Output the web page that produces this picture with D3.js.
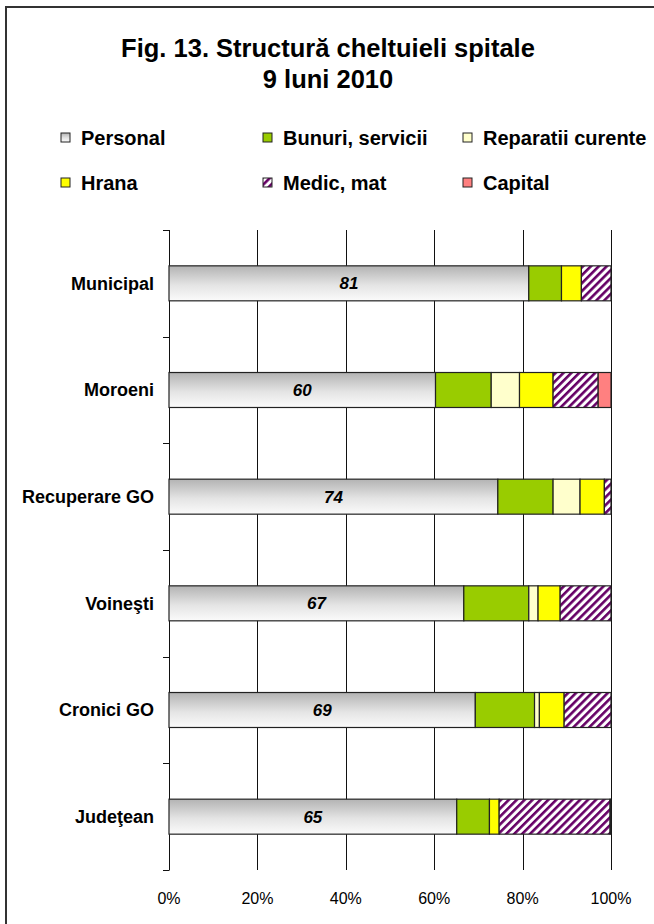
<!DOCTYPE html>
<html>
<head>
<meta charset="utf-8">
<script src="https://cdn.jsdelivr.net/npm/d3@7"></script>
<style>
  html, body { margin: 0; padding: 0; background: #fff; }
  svg { display: block; font-family: "Liberation Sans", Arial, sans-serif; }
</style>
</head>
<body>
<svg id="chart" width="654" height="924"></svg>
<script>
// Hospitals (top to bottom)
const hospitals = ["Municipal", "Moroeni", "Recuperare GO", "Voineşti", "Cronici GO", "Judeţean"];

// Expense categories, in stacking order
const categories = ["Personal", "Bunuri, servicii", "Reparatii curente", "Hrana", "Medic, mat", "Capital"];

// Share of each expense category per hospital (%)
const personal   = [81.4, 60.3, 74.4, 66.7, 69.3, 65.1];
const bunuri     = [ 7.4, 12.6, 12.5, 14.7, 13.4,  7.4];
const reparatii  = [ 0.0,  6.4,  6.1,  2.1,  1.1,  0.0];
const hrana      = [ 4.5,  7.6,  5.5,  5.0,  5.6,  2.2];
const medic      = [ 6.7, 10.2,  1.5, 11.5, 10.6, 25.1];
const capital    = [ 0.0,  2.9,  0.0,  0.0,  0.0,  0.2];

// Axis tick values (%)
const xTicks = [0, 20, 40, 60, 80, 100];

const title1 = "Fig. 13. Structură cheltuieli spitale";
const title2 = "9 luni 2010";

const seriesArrays = [personal, bunuri, reparatii, hrana, medic, capital];
const rows = hospitals.map((h, i) => {
  const r = { hospital: h };
  categories.forEach((c, k) => { r[c] = seriesArrays[k][i]; });
  return r;
});

const svg = d3.select("#chart");
const defs = svg.append("defs");

// Grey shading for the personnel segment
const grad = defs.append("linearGradient")
  .attr("id", "greyShade").attr("x1", 0).attr("y1", 0).attr("x2", 0).attr("y2", 1);
grad.append("stop").attr("offset", "0%").attr("stop-color", "#b3b3b3");
grad.append("stop").attr("offset", "55%").attr("stop-color", "#e4e4e4");
grad.append("stop").attr("offset", "100%").attr("stop-color", "#fbfbfb");

// Purple diagonal hatching for medical materials
const hatch = defs.append("pattern")
  .attr("id", "hatch").attr("patternUnits", "userSpaceOnUse")
  .attr("width", 5.6).attr("height", 5.6)
  .attr("patternTransform", "rotate(45)");
hatch.append("rect").attr("width", 5.6).attr("height", 5.6).attr("fill", "#fff");
hatch.append("rect").attr("width", 2.6).attr("height", 5.6).attr("fill", "#660066");

const fills = {
  "Personal": "url(#greyShade)",
  "Bunuri, servicii": "#99cc00",
  "Reparatii curente": "#ffffcc",
  "Hrana": "#ffff00",
  "Medic, mat": "url(#hatch)",
  "Capital": "#ff8080"
};

// Frame
svg.append("rect").attr("x", 6).attr("y", 7).attr("width", 700).attr("height", 960)
  .attr("fill", "none").attr("stroke", "#333").attr("stroke-width", 2);

// Title
svg.append("text").attr("x", 328).attr("y", 57).attr("text-anchor", "middle")
  .attr("font-size", 25.5).attr("font-weight", "bold").text(title1);
svg.append("text").attr("x", 328).attr("y", 88).attr("text-anchor", "middle")
  .attr("font-size", 25.5).attr("font-weight", "bold").text(title2);

// Legend (3 columns x 2 rows)
const legCols = [61, 263, 463];
const legRows = [138, 183];
const legend = svg.append("g");
categories.forEach((c, k) => {
  const g = legend.append("g")
    .attr("transform", `translate(${legCols[k % 3]},${legRows[Math.floor(k / 3)]})`);
  g.append("rect").attr("x", 0).attr("y", -5).attr("width", 9).attr("height", 9)
    .attr("fill", fills[c]).attr("stroke", "#222").attr("stroke-width", 1);
  g.append("text").attr("x", 20).attr("y", 0).attr("dy", "0.36em")
    .attr("font-size", 20).attr("font-weight", "bold").text(c);
});

// Scales
const x = d3.scaleLinear().domain([0, 100]).range([169, 611]);
const y = d3.scaleBand().domain(hospitals).range([230, 870])
  .paddingInner(0.672).paddingOuter(0.336);

const yTop = y.range()[0], yBottom = y.range()[1];

// Vertical gridlines
svg.append("g").selectAll("line").data(xTicks.filter(t => t > 0)).join("line")
  .attr("x1", d => Math.round(x(d)) + 0.5).attr("x2", d => Math.round(x(d)) + 0.5)
  .attr("y1", yTop).attr("y2", yBottom)
  .attr("stroke", "#111").attr("stroke-width", 1);

// Category axis with tick marks between categories
const yAxisG = svg.append("g");
yAxisG.append("line")
  .attr("x1", x(0) + 0.5).attr("x2", x(0) + 0.5).attr("y1", yTop).attr("y2", yBottom)
  .attr("stroke", "#111");
const boundaries = d3.range(hospitals.length + 1).map(i => yTop + i * y.step());
yAxisG.selectAll("line.tk").data(boundaries).join("line").attr("class", "tk")
  .attr("x1", x(0) - 6).attr("x2", x(0) + 0.5)
  .attr("y1", d => Math.round(d) + 0.5).attr("y2", d => Math.round(d) + 0.5)
  .attr("stroke", "#111");
yAxisG.selectAll("text").data(hospitals).join("text")
  .attr("x", x(0) - 15).attr("y", d => y(d) + y.bandwidth() / 2).attr("dy", "0.36em")
  .attr("text-anchor", "end").attr("font-size", 18).attr("font-weight", "bold")
  .text(d => d);

// Percentage labels on the value axis
svg.append("g").selectAll("text").data(xTicks).join("text")
  .attr("x", d => x(d)).attr("y", 898).attr("dy", "0.36em")
  .attr("text-anchor", "middle").attr("font-size", 16)
  .text(d => d + "%");

// Stacked bars
const stack = d3.stack().keys(categories);
const stacked = stack(rows);

svg.append("g").selectAll("g").data(stacked).join("g")
  .attr("fill", s => fills[s.key])
  .selectAll("rect").data(s => s.filter(d => d[1] - d[0] > 0)).join("rect")
  .attr("x", d => x(d[0]))
  .attr("y", d => y(d.data.hospital))
  .attr("width", d => x(d[1]) - x(d[0]))
  .attr("height", y.bandwidth())
  .attr("stroke", "#222").attr("stroke-width", 1.2);

// Value labels on the personnel segment
svg.append("g").selectAll("text").data(rows).join("text")
  .attr("x", d => (x(0) + x(d.Personal)) / 2)
  .attr("y", d => y(d.hospital) + y.bandwidth() / 2).attr("dy", "0.36em")
  .attr("text-anchor", "middle").attr("font-size", 17)
  .attr("font-weight", "bold").attr("font-style", "italic")
  .text(d => d3.format(".0f")(d.Personal));
</script>
</body>
</html>
